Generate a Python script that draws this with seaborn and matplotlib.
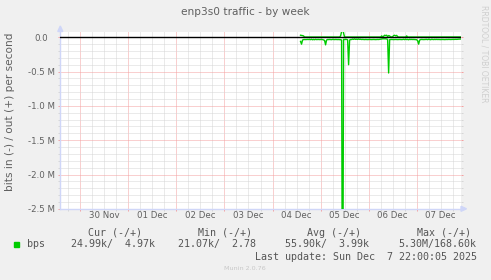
import numpy as np
import pandas as pd
import matplotlib
matplotlib.use("Agg")
import matplotlib.pyplot as plt
import matplotlib.dates as mdates
from matplotlib.ticker import MultipleLocator, FuncFormatter, NullFormatter
from matplotlib.patches import Rectangle, Polygon
import seaborn as sns

# ---------------- data ----------------
title = "enp3s0 traffic - by week"
ylabel = "bits in (-) / out (+) per second"
watermark = "RRDTOOL / TOBI OETIKER"
footer = "Munin 2.0.76"
series_name = "bps"
legend_header = ["Cur (-/+)", "Min (-/+)", "Avg (-/+)", "Max (-/+)"]
legend_values = ["24.99k/  4.97k", "21.07k/  2.78", "55.90k/  3.99k", "5.30M/168.60k"]
last_update = "Last update: Sun Dec  7 22:00:05 2025"

data_start = "2025-12-04 14:00"
data_step = "30min"
view_start = "2025-11-29 14:00"
view_end = "2025-12-07 22:00"

# bits in, millions (plotted as negative)
bits_in_M = [
    0.060, 0.100, 0.040, 0.033, 0.032, 0.033, 0.032, 0.031, 0.032, 0.030,
    0.034, 0.028, 0.036, 0.030, 0.035, 0.029, 0.033, 0.032, 0.031, 0.033,
    0.032, 0.031, 0.033, 0.038, 0.045, 0.110, 0.040, 0.032, 0.033, 0.031,
    0.032, 0.034, 0.030, 0.032, 0.033, 0.031, 0.032, 0.033, 0.032, 0.034,
    0.035, 0.040, 5.300, 0.030, 0.032, 0.030, 0.031, 0.035, 0.400, 0.040,
    0.032, 0.032, 0.026, 0.030, 0.024, 0.030, 0.027, 0.031, 0.025, 0.030,
    0.028, 0.032, 0.030, 0.032, 0.033, 0.031, 0.032, 0.033, 0.032, 0.031,
    0.032, 0.033, 0.032, 0.031, 0.032, 0.033, 0.032, 0.031, 0.032, 0.030,
    0.028, 0.025, 0.022, 0.022, 0.023, 0.022, 0.025, 0.030, 0.520, 0.035,
    0.032, 0.031, 0.032, 0.033, 0.032, 0.031, 0.032, 0.033, 0.032, 0.031,
    0.032, 0.033, 0.032, 0.028, 0.034, 0.027, 0.033, 0.030, 0.036, 0.028,
    0.032, 0.030, 0.032, 0.031, 0.032, 0.033, 0.035, 0.050, 0.100, 0.040,
    0.032, 0.031, 0.032, 0.033, 0.032, 0.031, 0.030, 0.034, 0.028, 0.032,
    0.035, 0.029, 0.031, 0.033, 0.030, 0.032, 0.030, 0.032, 0.031, 0.032,
    0.033, 0.032, 0.031, 0.032, 0.033, 0.032, 0.031, 0.032, 0.030, 0.031,
    0.032, 0.031, 0.030, 0.031, 0.030, 0.029, 0.030, 0.028, 0.027, 0.026, 0.025,
]
# bits out, millions (plotted as positive)
bits_out_M = [
    0.030, 0.028, 0.025, 0.020, 0.004, 0.004, 0.005, 0.004, 0.004, 0.004,
    0.004, 0.005, 0.004, 0.004, 0.003, 0.004, 0.004, 0.004, 0.005, 0.004,
    0.004, 0.004, 0.004, 0.004, 0.005, 0.004, 0.004, 0.004, 0.004, 0.003,
    0.004, 0.004, 0.004, 0.005, 0.004, 0.004, 0.004, 0.004, 0.004, 0.004,
    0.020, 0.080, 0.1686, 0.060, 0.004, 0.004, 0.004, 0.004, 0.005, 0.004,
    0.004, 0.004, 0.004, 0.004, 0.003, 0.004, 0.004, 0.004, 0.004, 0.004,
    0.004, 0.004, 0.005, 0.004, 0.004, 0.004, 0.004, 0.004, 0.004, 0.004,
    0.004, 0.004, 0.004, 0.004, 0.005, 0.004, 0.004, 0.004, 0.004, 0.004,
    0.004, 0.020, 0.008, 0.015, 0.030, 0.025, 0.030, 0.010, 0.025, 0.020,
    0.006, 0.005, 0.010, 0.025, 0.030, 0.020, 0.028, 0.010, 0.004, 0.004,
    0.004, 0.004, 0.004, 0.004, 0.005, 0.004, 0.020, 0.004, 0.004, 0.004,
    0.004, 0.004, 0.004, 0.004, 0.004, 0.004, 0.004, 0.004, 0.004, 0.004,
    0.004, 0.004, 0.004, 0.004, 0.004, 0.004, 0.004, 0.005, 0.004, 0.004,
    0.004, 0.004, 0.004, 0.004, 0.004, 0.004, 0.004, 0.004, 0.004, 0.004,
    0.004, 0.004, 0.004, 0.004, 0.004, 0.004, 0.004, 0.004, 0.004, 0.004,
    0.004, 0.004, 0.004, 0.004, 0.004, 0.004, 0.004, 0.004, 0.004, 0.004, 0.005,
]

# ---------------- styling ----------------
W, H = 491, 280
BG = "#f0f0f0"
GREEN = "#00cc00"
AXIS_C = "#cfd6f8"
MAJ_GRID = "#f4a0a0"
MIN_GRID = "#d6d6d6"
FONT_C = "#606060"

def fx(x):
    return x / W

def fy(y):
    return 1 - y / H

times = pd.date_range(data_start, periods=len(bits_in_M), freq=data_step)
df = pd.DataFrame({
    "time": times,
    "in": -np.array(bits_in_M) * 1e6,
    "out": np.array(bits_out_M) * 1e6,
})

fig = plt.figure(figsize=(W / 100, H / 100), dpi=100, facecolor=BG)
ax = fig.add_axes([fx(60.3), fy(208.8), 400.4 / W, 176.5 / H])
ax.set_facecolor("white")

sns.lineplot(data=df, x="time", y="in", ax=ax, color=GREEN, lw=1.0, zorder=3)
sns.lineplot(data=df, x="time", y="out", ax=ax, color=GREEN, lw=1.0, zorder=3)
ax.axhline(0, color="black", lw=1.0, zorder=4)

ax.set_xlim(pd.Timestamp(view_start), pd.Timestamp(view_end))
ax.set_ylim(-2.5e6, 0.073e6)
ax.set_xlabel("")
ax.set_ylabel("")

# y axis
ax.yaxis.set_major_locator(MultipleLocator(0.5e6))
ax.yaxis.set_minor_locator(MultipleLocator(0.1e6))
ax.yaxis.set_major_formatter(FuncFormatter(
    lambda v, p: "0.0" if abs(v) < 1 else f"{v / 1e6:.1f} M"))
ax.yaxis.set_minor_formatter(NullFormatter())

# x axis
ax.xaxis.set_major_locator(mdates.DayLocator())
ax.xaxis.set_minor_locator(mdates.HourLocator(byhour=[6, 12, 18]))
ax.xaxis.set_major_formatter(NullFormatter())
ax.xaxis.set_minor_formatter(FuncFormatter(
    lambda v, p: mdates.num2date(v).strftime("%d %b") if mdates.num2date(v).hour == 12 else ""))

ax.set_axisbelow(True)
ax.grid(which="major", color=MAJ_GRID, ls=(0, (1, 1)), lw=0.72)
ax.grid(which="minor", color=MIN_GRID, ls=(0, (1, 1)), lw=0.72)

ax.tick_params(which="both", length=1.44, width=0.72, direction="out",
               labelsize=6.2, labelcolor=FONT_C, right=True)
ax.tick_params(which="major", color=MAJ_GRID)
ax.tick_params(which="minor", color=MIN_GRID)
ax.tick_params(axis="x", which="both", pad=0.3)
ax.tick_params(axis="y", which="major", pad=12.4)
for t in ax.yaxis.get_major_ticks():
    t.label1.set_horizontalalignment("center")

for s in ["top", "right"]:
    ax.spines[s].set_visible(False)
for s in ["left", "bottom"]:
    ax.spines[s].set_color(AXIS_C)
    ax.spines[s].set_linewidth(1.0)

# arrows
fig.add_artist(Polygon([(fx(57.8), fy(31.5)), (fx(62.8), fy(31.5)), (fx(60.3), fy(26))],
                       closed=True, color=AXIS_C, transform=fig.transFigure))
fig.add_artist(Polygon([(fx(461), fy(206.3)), (fx(461), fy(211.3)), (fx(466.5), fy(208.8))],
                       closed=True, color=AXIS_C, transform=fig.transFigure))

# texts
fig.text(fx(245.5), fy(12), title, ha="center", va="center", fontsize=7.6, color=FONT_C,
         family="DejaVu Sans")
fig.text(fx(10), fy(111.5), ylabel, rotation=90, ha="center", va="center", fontsize=7.6,
         color=FONT_C, family="DejaVu Sans")
fig.text(fx(484), fy(54), watermark, rotation=270, ha="center", va="center", fontsize=5.5,
         color="#cfcfcf", family="DejaVu Sans")

mono = dict(family="DejaVu Sans Mono", fontsize=7.2, color="#555555", va="center", ha="left")
for txt, x in zip(legend_header, [88, 198, 307, 417]):
    fig.text(fx(x), fy(232.7), txt, **mono)
fig.text(fx(27), fy(244.3), series_name, **mono)
for txt, x in zip(legend_values, [71, 178.3, 285, 398.3]):
    fig.text(fx(x), fy(244.3), txt, **mono)
fig.text(fx(255), fy(256.7), last_update, **mono)
fig.add_artist(Rectangle((fx(14), fy(246.9)), 5.4 / W, 5.2 / H, color=GREEN,
                         transform=fig.transFigure))
fig.text(fx(245), fy(268.3), footer, ha="center", va="center", fontsize=4.6,
         color="#c8c8c8", family="DejaVu Sans")

fig.savefig("out.png", dpi=100, facecolor=BG)
